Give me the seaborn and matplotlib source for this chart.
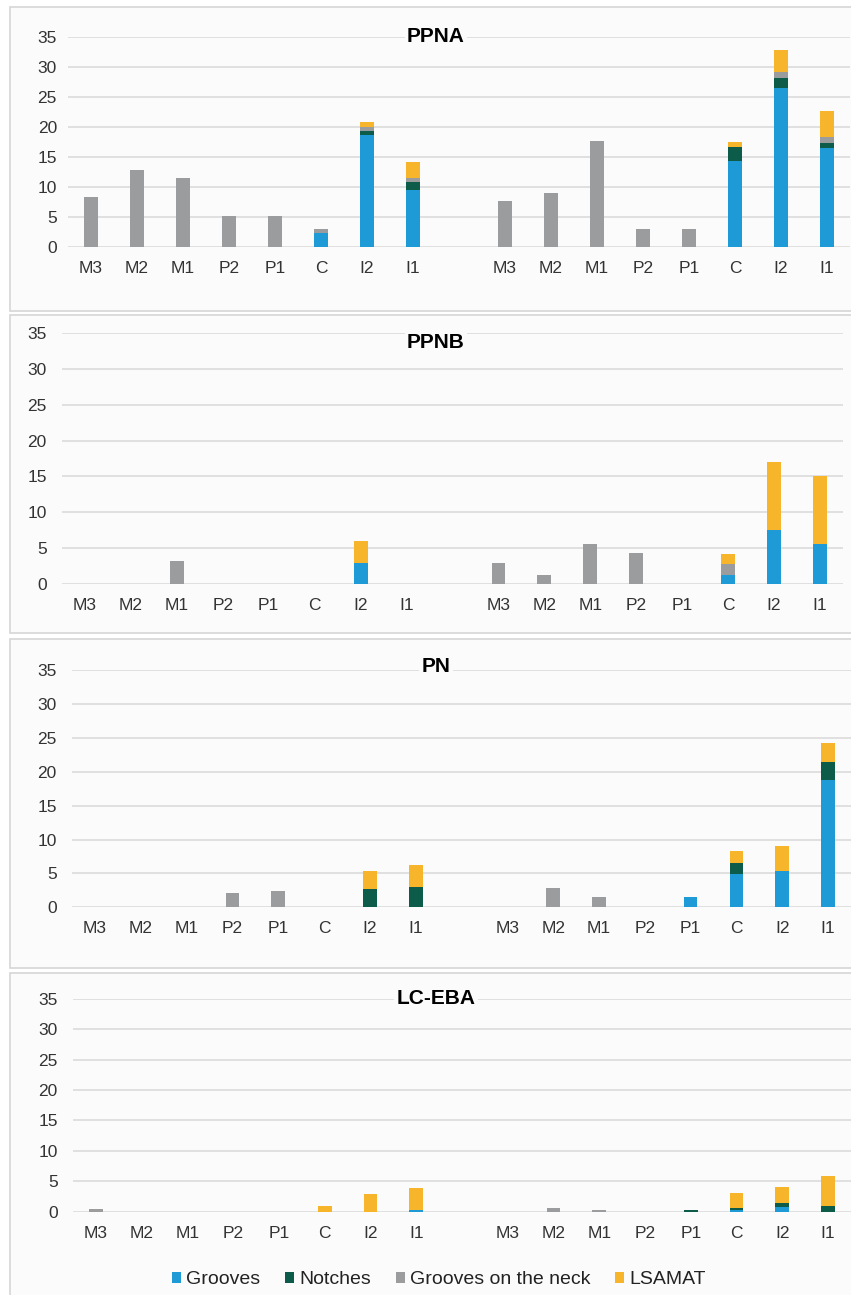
import matplotlib
matplotlib.use("Agg")
import matplotlib.pyplot as plt
from matplotlib.patches import Patch, Rectangle
import pandas as pd
import seaborn as sns

teeth = ["M3", "M2", "M1", "P2", "P1", "C", "I2", "I1"]
periods = ["PPNA", "PPNB", "PN", "LC-EBA"]
series = ["Grooves", "Notches", "Grooves on the neck", "LSAMAT"]
colors = ["#1E9BD7", "#0D5C49", "#9B9C9D", "#F6B52B"]

# each list: left group (8 teeth) followed by right group (8 teeth)
ppna_grooves = [0, 0, 0, 0, 0, 2.4, 18.7, 9.5, 0, 0, 0, 0, 0, 14.3, 26.4, 16.5]
ppna_notches = [0, 0, 0, 0, 0, 0, 0.7, 1.3, 0, 0, 0, 0, 0, 2.4, 1.8, 0.9]
ppna_neck = [8.3, 12.8, 11.5, 5.2, 5.2, 0.6, 0.6, 0.7, 7.7, 9.1, 17.6, 3.0, 3.1, 0, 1.0, 0.9]
ppna_lsamat = [0, 0, 0, 0, 0, 0, 0.8, 2.6, 0, 0, 0, 0, 0, 0.8, 3.6, 4.3]

ppnb_grooves = [0, 0, 0, 0, 0, 0, 2.9, 0, 0, 0, 0, 0, 0, 1.3, 7.6, 5.6]
ppnb_notches = [0, 0, 0, 0, 0, 0, 0, 0, 0, 0, 0, 0, 0, 0, 0, 0]
ppnb_neck = [0, 0, 3.2, 0, 0, 0, 0, 0, 3.0, 1.3, 5.6, 4.3, 0, 1.5, 0, 0]
ppnb_lsamat = [0, 0, 0, 0, 0, 0, 3.1, 0, 0, 0, 0, 0, 0, 1.4, 9.4, 9.5]

pn_grooves = [0, 0, 0, 0, 0, 0, 0, 0, 0, 0, 0, 0, 1.5, 4.9, 5.4, 18.8]
pn_notches = [0, 0, 0, 0, 0, 0, 2.7, 3.0, 0, 0, 0, 0, 0, 1.7, 0, 2.7]
pn_neck = [0, 0, 0, 2.1, 2.4, 0, 0, 0, 0, 2.9, 1.5, 0, 0, 0, 0, 0]
pn_lsamat = [0, 0, 0, 0, 0, 0, 2.7, 3.2, 0, 0, 0, 0, 0, 1.7, 3.7, 2.8]

lceba_grooves = [0, 0, 0, 0, 0, 0, 0, 0.3, 0, 0, 0, 0, 0, 0.35, 0.8, 0]
lceba_notches = [0, 0, 0, 0, 0, 0, 0, 0, 0, 0, 0, 0, 0.2, 0.3, 0.6, 1.0]
lceba_neck = [0.4, 0, 0, 0, 0, 0, 0, 0, 0, 0.6, 0.3, 0, 0, 0, 0, 0]
lceba_lsamat = [0, 0, 0, 0, 0, 1.0, 2.9, 3.6, 0, 0, 0, 0, 0, 2.5, 2.6, 4.8]

panel_values = {
    "PPNA": [ppna_grooves, ppna_notches, ppna_neck, ppna_lsamat],
    "PPNB": [ppnb_grooves, ppnb_notches, ppnb_neck, ppnb_lsamat],
    "PN": [pn_grooves, pn_notches, pn_neck, pn_lsamat],
    "LC-EBA": [lceba_grooves, lceba_notches, lceba_neck, lceba_lsamat],
}

W, H = 851, 1295
BG = "#FBFBFB"
panel_boxes = [(7, 311), (315, 633), (639, 968), (973, 1296)]
# left, right, top (y=35), bottom (y=0) in pixels
axes_boxes = [(68, 850, 36.7, 247.3), (62, 843, 332.7, 584.3),
              (72, 851, 670, 907.3), (73, 851, 998.7, 1211.7)]
title_y = [36.7, 342.7, 667, 999]
ytick_pad = [8, 11, 11, 11]

left_slots = ["L-" + t for t in teeth]
right_slots = ["R-" + t for t in teeth]
order = left_slots + ["gap"] + right_slots

sns.set_style("white")
plt.rcParams["font.family"] = ["Liberation Sans", "DejaVu Sans"]

fig = plt.figure(figsize=(W / 100, H / 100), dpi=100)
fig.patch.set_facecolor("white")

for (top, bottom) in panel_boxes:
    fig.patches.append(Rectangle((10 / W, 1 - bottom / H), (W - 8) / W, (bottom - top) / H,
                                 transform=fig.transFigure, facecolor=BG,
                                 edgecolor="#D6D6D6", linewidth=1.2, zorder=-5))


def draw_panel(ax, values):
    df = pd.DataFrame({"slot": left_slots + right_slots})
    for name, vals in zip(series, values):
        df[name] = vals
    stack = df[series].cumsum(axis=1)
    # draw cumulative totals from top segment down so each layer shows its own part
    for i in range(len(series) - 1, -1, -1):
        sns.barplot(x=df["slot"], y=stack[series[i]], order=order, color=colors[i],
                    width=0.3, saturation=1, linewidth=0, errorbar=None, ax=ax)


for k, period in enumerate(periods):
    l, r, t, b = axes_boxes[k]
    ax = fig.add_axes([l / W, 1 - b / H, (r - l) / W, (b - t) / H])
    ax.set_facecolor("none")
    draw_panel(ax, panel_values[period])
    ax.set_xlim(-0.5, 16.5)
    ax.set_ylim(0, 35)
    ax.set_yticks(range(0, 36, 5))
    ax.set_xticks(range(len(order)))
    ax.set_xticklabels(teeth + [""] + teeth)
    ax.set_xlabel("")
    ax.set_ylabel("")
    ax.yaxis.grid(True, color="#D9D9D9", linewidth=1.1)
    ax.set_axisbelow(True)
    for s in ax.spines.values():
        s.set_visible(False)
    ax.tick_params(axis="both", length=0, labelsize=12.5, labelcolor="#333333")
    ax.tick_params(axis="x", pad=10)
    ax.tick_params(axis="y", pad=ytick_pad[k])
    fig.text(436 / W, 1 - title_y[k] / H, period, ha="center", va="center",
             fontsize=15, fontweight="bold", color="black",
             bbox=dict(facecolor=BG, edgecolor="none", pad=1.5))

handles = [Patch(facecolor=c, edgecolor="none", label=s) for c, s in zip(colors, series)]
fig.legend(handles=handles, loc="center", bbox_to_anchor=(439 / W, 1 - 1280 / H),
           ncol=4, frameon=False, fontsize=14, handlelength=0.45, handleheight=0.45,
           handletextpad=0.25, columnspacing=1.3, labelcolor="#222222")

fig.savefig("out.png", dpi=100)
